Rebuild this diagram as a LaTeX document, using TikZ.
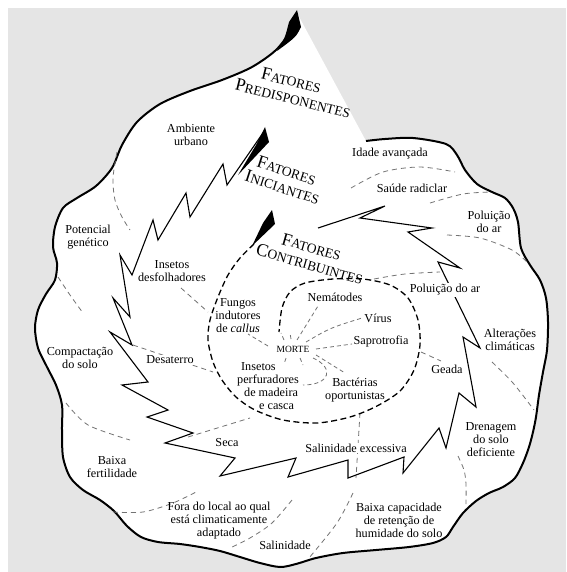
\documentclass[tikz,border=0pt]{standalone}
\usepackage{fontspec}
\setmainfont{Liberation Serif}
\newcommand{\bigI}[1]{{\fontsize{18}{18}\selectfont #1}}
\newcommand{\smc}[1]{{\fontsize{13.5}{14}\selectfont #1}}
\begin{document}
\begin{tikzpicture}[x=1pt,y=-1pt,
  lbl/.style={align=center,font=\fontsize{12.2}{13}\selectfont,inner sep=1pt},
  ttl/.style={align=center,inner sep=0pt,font=\fontsize{13.5}{17}\selectfont},
  sep/.style={draw=black!55,line width=0.8pt,dash pattern=on 5pt off 4pt},
  ray/.style={draw=black!55,line width=0.8pt,dash pattern=on 4pt off 3pt},
  zig/.style={draw=black,line width=1.1pt,line join=miter},
  spiral/.style={draw=black,line width=1.3pt,dash pattern=on 6pt off 3.5pt},
  outl/.style={draw=black,line width=2pt}]
\useasboundingbox (0,0) rectangle (566,572);
\fill[black!10] (8,8) rectangle (566,572);
% blob
\fill[white] plot[smooth,tension=0.5] coordinates {(297,13) (291,30) (276,50) (252,67) (222,80) (190,91) (160,104) (137,122) (122,145) (112,168) (96,186) (77,198) (63,208) (55,227) (53,247) (57,263) (55,280) (46,294) (38,310) (35,328) (38,348) (47,367) (56,385) (62,405) (62,430) (63,457) (70,477) (83,490) (100,500) (114,511) (127,526) (141,537) (158,542) (180,544) (200,547) (220,551) (240,557) (260,563) (280,567) (296,564) (316,558) (343,553) (376,550) (409,547) (433,543) (446,537) (453,527) (463,513) (476,501) (489,493) (503,487) (515,478) (523,463) (529,447) (533,432) (536,417) (539,395) (543,372) (547,350) (548,322) (546,298) (540,280) (530,265) (521,248) (518,222) (513,208) (505,198) (492,192) (477,184) (465,170) (457,155) (446,144) (413,138) (385,139) (366,141)} -- cycle;
\draw[outl] plot[smooth,tension=0.5] coordinates {(297,13) (291,30) (276,50) (252,67) (222,80) (190,91) (160,104) (137,122) (122,145) (112,168) (96,186) (77,198) (63,208) (55,227) (53,247) (57,263) (55,280) (46,294) (38,310) (35,328) (38,348) (47,367) (56,385) (62,405) (62,430) (63,457) (70,477) (83,490) (100,500) (114,511) (127,526) (141,537) (158,542) (180,544) (200,547) (220,551) (240,557) (260,563) (280,567) (296,564) (316,558) (343,553) (376,550) (409,547) (433,543) (446,537) (453,527) (463,513) (476,501) (489,493) (503,487) (515,478) (523,463) (529,447) (533,432) (536,417) (539,395) (543,372) (547,350) (548,322) (546,298) (540,280) (530,265) (521,248) (518,222) (513,208) (505,198) (492,192) (477,184) (465,170) (457,155) (446,144) (413,138) (385,139) (366,141)};
% top spike
\fill (297,10) -- (301,27) .. controls (296,37) .. (277,51) .. controls (285,38) .. (289,22) -- cycle;
% separators
\draw[sep] plot[smooth] coordinates {(117,152) (113,178) (115,200) (122,217) (130,230)};
\draw[sep] plot[smooth] coordinates {(58,277) (70,295) (83,313)};
\draw[sep] plot[smooth] coordinates {(66,403) (88,425) (130,440)};
\draw[sep] plot[smooth] coordinates {(113,512) (143,512) (173,503) (198,491)};
\draw[sep] plot[smooth] coordinates {(292,500) (272,523) (250,538) (230,548)};
\draw[sep] plot[smooth] coordinates {(353,493) (337,523) (309,558)};
\draw[sep] plot[smooth] coordinates {(458,456) (464,470) (466,484) (466,504)};
\draw[sep] plot[smooth] coordinates {(492,362) (513,383) (534,410)};
\draw[sep] plot[smooth] coordinates {(447,235) (480,238) (512,250) (528,263)};
\draw[sep] plot[smooth] coordinates {(430,203) (463,194) (491,192)};
\draw[sep] plot[smooth] coordinates {(351,188) (383,172) (420,167) (455,172)};
\draw[sep] (181,288) -- (208,312);
\draw[sep] (133,345) -- (213,372);
\draw[sep] (188,437) -- (250,418);
\draw[sep] (360,413) -- (356,478);
\draw[sep] (421,352) -- (441,361);
\draw[sep] plot[smooth] coordinates {(374,279) (405,274) (440,272)};
% rays from MORTE
\draw[ray] (297,340) -- (318,306);
\draw[ray] (306,342) .. controls (330,328) .. (362,318);
\draw[ray] (316,349) -- (352,344);
\draw[ray] (316,355) -- (345,373);
\draw[ray] (313,358) .. controls (335,368) and (330,385) .. (303,385);
\draw[ray] (268,346) -- (248,334);
\draw[ray] (284,340) -- (281,333);
\draw[ray] (291,339) -- (290,333);
\draw[ray] (300,358) -- (303,365);
\draw[ray] (286,358) -- (284,364);
% zigzag (iniciantes)
\draw[zig] (265,130) -- (227,185) -- (223,164) -- (190,217) -- (186,193) -- (158,240) -- (153,220) -- (132,275) -- (120,255) -- (130,317) -- (113,298) -- (132,345) -- (110,332) -- (148,382) -- (122,385) -- (168,410) -- (147,417) -- (193,433) -- (165,443) -- (235,458) -- (220,476) -- (296,458) -- (288,477) -- (348,460) -- (348,478) -- (404,457) -- (403,473) -- (439,428) -- (446,448) -- (459,393) -- (476,407) -- (463,337) -- (480,348) -- (438,262) -- (460,268) -- (408,232) -- (432,228) -- (360,218) -- (385,206) -- (318,228);
\fill (265,127) -- (269,142) -- (238,175) -- (256,145) -- cycle;
% contribuintes spiral
\draw[spiral] plot[smooth] coordinates {(254,244) (240,258) (228,275) (218,297) (210,320) (208,340) (213,362) (222,380) (236,397) (255,410) (283,420) (317,423) (350,417) (377,406) (400,391) (414,370) (420,345) (418,320) (408,298) (390,285) (363,279) (333,279) (305,283) (290,292) (282,308) (279,332)};
\fill (272,210) -- (275,224) -- (252,246) -- (263,223) -- cycle;
% titles
\node[ttl,rotate=-14] (tp) at (295,90) {\bigI{F}ATORES\hspace*{12pt}\\\bigI{P}REDISPONENTES};
\node[ttl,rotate=-18] (ti) at (285,179) {\bigI{F}ATORES\hspace*{2pt}\\\bigI{I}NICIANTES};
\node[ttl,rotate=-16] (tc) at (312,256) {\bigI{F}ATORES\hspace*{6pt}\\\bigI{C}ONTRIBUINTES};
% labels
\node[lbl] (amb) at (191,135) {Ambiente\\urbano};
\node[lbl] (ida) at (390,154) {Idade avançada};
\node[lbl] (sau) at (412,188) {Saúde radiclar};
\node[lbl] (pol1) at (489,222) {Poluição\\do ar};
\node[lbl] (pot) at (88,237) {Potencial\\genético};
\node[lbl] (ins) at (172,271) {Insetos\\desfolhadores};
\node[lbl,fill=white] (pol2) at (445,290) {Poluição do ar};
\node[lbl] (alt) at (510,340) {Alterações\\climáticas};
\node[lbl] (gea) at (447,369) {Geada};
\node[lbl] (com) at (80,358) {Compactação\\do solo};
\node[lbl,fill=white] (des) at (170,360) {Desaterro};
\node[lbl] (fun) at (238,316) {Fungos\\indutores\\de \textit{callus}};
\node[lbl] (nem) at (335,297) {Nemátodes};
\node[lbl] (vir) at (378,318) {Vírus};
\node[lbl] (sap) at (381,342) {Saprotrofia};
\node[font=\fontsize{9.5}{10}\selectfont,fill=white,inner sep=1pt] (mor) at (293,349) {MORTE};
\node[lbl,align=left] (ip) at (268,386) {\hspace*{4pt}Insetos\\perfuradores\\\hspace*{7pt}de madeira\\\hspace*{22pt}e casca};
\node[lbl] (bac) at (355,390) {Bactérias\\oportunistas};
\node[lbl] (bai) at (112,467) {Baixa\\fertilidade};
\node[lbl] (sec) at (227,443) {Seca};
\node[lbl,fill=white] (sal) at (356,448) {Salinidade excessiva};
\node[lbl] (dre) at (491,440) {Drenagem\\do solo\\deficiente};
\node[lbl] (for) at (219,521) {Fora do local ao qual\\está climaticamente\\adaptado};
\node[lbl] (sal2) at (285,545) {Salinidade};
\node[lbl] (bcap) at (399,520) {Baixa capacidade\\de retenção de\\humidade do solo};
\end{tikzpicture}
\end{document}
